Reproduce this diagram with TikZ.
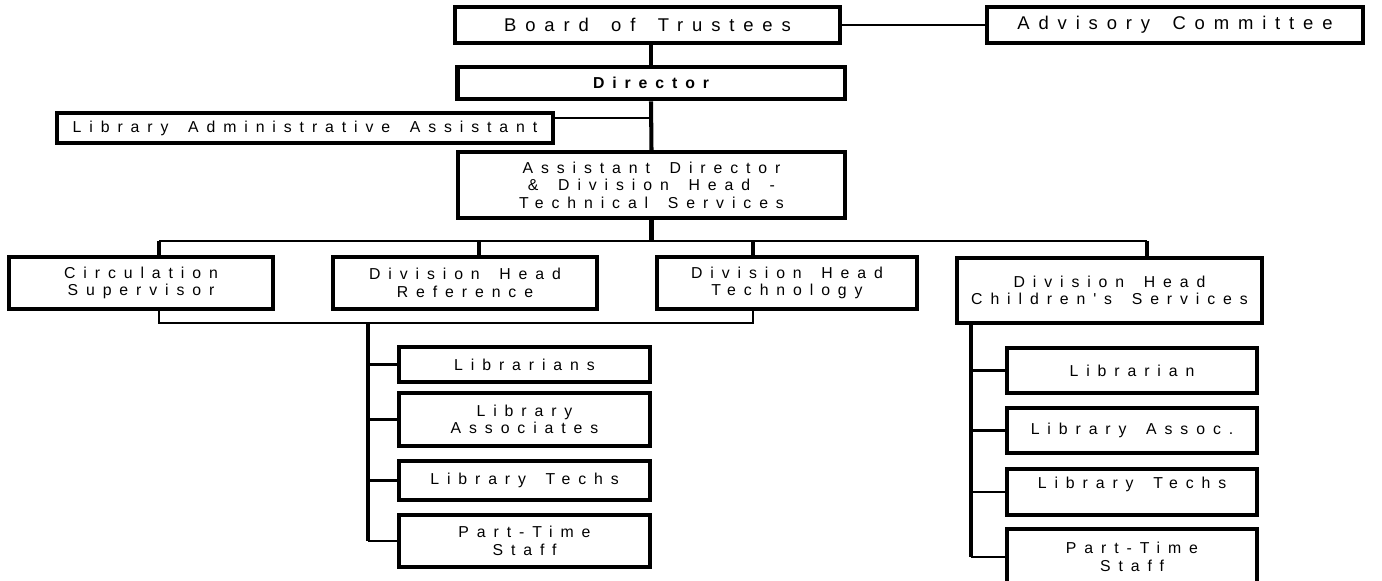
\documentclass[tikz,border=0pt]{standalone}
\usepackage{fontspec}
\usepackage{tikz}
\newfontfamily\orgfont{Liberation Sans}[LetterSpace=50,WordSpace=1.6]
\newfontfamily\topfont{Liberation Sans}[LetterSpace=48,WordSpace=1.6]
\tikzset{
  orgbox/.style={draw, line width=2pt, align=center, inner sep=0pt,
    font=\orgfont\fontsize{9}{10}\selectfont},
  topbox/.style={orgbox, font=\topfont\fontsize{10.5}{11}\selectfont},
  headbox/.style={orgbox, line width=2.8pt, font=\orgfont\bfseries\fontsize{9}{10}\selectfont},
  link/.style={line width=1.3pt},
  trunk/.style={line width=2.3pt}
}

\begin{document}
\begin{tikzpicture}[x=0.02cm,y=-0.02cm]
  \useasboundingbox (0,0) rectangle (1382,581);

  \node[topbox, minimum width=7.7cm, minimum height=0.72cm] (board) at (647.5,25) {Board of Trustees};
  \node[topbox, minimum width=7.52cm, minimum height=0.72cm] (advisory) at (1175,25) {Advisory Committee};
  \node[headbox, minimum width=7.76cm, minimum height=0.64cm] (director) at (651,83) {Director};
  \node[orgbox, minimum width=9.92cm, minimum height=0.6cm] (admin) at (305,128) {Library Administrative Assistant};
  \node[orgbox, minimum width=7.74cm, minimum height=1.32cm] (asstdir) at (651.5,185)
    {Assistant Director\\\& Division Head -\\Technical Services};

  \node[orgbox, minimum width=5.28cm, minimum height=1.04cm] (circ) at (141,283) {Circulation\\Supervisor};
  \node[orgbox, minimum width=5.28cm, minimum height=1.04cm] (reference) at (465,283) {Division Head\\Reference};
  \node[orgbox, minimum width=5.2cm, minimum height=1.04cm] (technology) at (787,283) {Division Head\\Technology};
  \node[orgbox, minimum width=6.1cm, minimum height=1.3cm] (children) at (1109.5,290.5) {Division Head\\Children's Services};

  \node[orgbox, minimum width=5.02cm, minimum height=0.7cm] (librarians) at (524.5,364.5) {Librarians};
  \node[orgbox, minimum width=5.02cm, minimum height=1.06cm] (associates) at (524.5,419.5) {Library\\Associates};
  \node[orgbox, minimum width=5.02cm, minimum height=0.78cm] (techs) at (524.5,480.5) {Library Techs};
  \node[orgbox, minimum width=5.02cm, minimum height=1.04cm] (parttime) at (524.5,541) {Part-Time\\Staff};

  \node[orgbox, minimum width=5cm, minimum height=0.9cm] (librarian) at (1132,370.5) {Librarian};
  \node[orgbox, minimum width=5cm, minimum height=0.9cm] (assoc) at (1132,430.5) {Library Assoc.};
  \node[orgbox, minimum width=5cm, minimum height=0.92cm] (techsb) at (1132,492) {Library Techs\\\mbox{}};
  \node[orgbox, minimum width=5cm, minimum height=1.12cm] (parttimeb) at (1132,557) {Part-Time\\Staff};

  \coordinate (busL) at (159,241);
  \coordinate (busM) at (479,241);
  \coordinate (busT) at (753,241);
  \coordinate (busR) at (1147,241);
  \coordinate (lowL) at (159,323);
  \coordinate (lowR) at (753,323);
  \coordinate (spineL) at (368,323);
  \coordinate (spineR) at (971,323);

  \draw[link] (board.east) -- (advisory.west);
  \draw[trunk] (director.north) -- (director.north |- board.south);
  \draw[trunk] (director.south) -- (asstdir.north);
  \draw[link] ([yshift=0.2cm]admin.east) -- ([yshift=0.2cm]admin.east -| director.south);
  \draw[trunk] (asstdir.south) -- (asstdir.south |- busL);
  \draw[link] (busL) -- (busR);
  \draw[trunk] (busL) -- (busL |- circ.north);
  \draw[trunk] (busM) -- (busM |- reference.north);
  \draw[trunk] (busT) -- (busT |- technology.north);
  \draw[trunk] (busR) -- (busR |- children.north);

  \draw[link] (lowL |- circ.south) -- (lowL) -- (lowR) -- (lowR |- technology.south);
  \draw[trunk] (spineL) -- (spineL |- parttime.west);
  \foreach \n in {librarians,associates,techs,parttime}
    \draw[link] (spineL |- \n.west) -- (\n.west);

  \draw[trunk] (spineR |- children.south) -- (spineR |- parttimeb.west);
  \foreach \n in {librarian,assoc,techsb,parttimeb}
    \draw[link] (spineR |- \n.west) -- (\n.west);
\end{tikzpicture}
\end{document}
